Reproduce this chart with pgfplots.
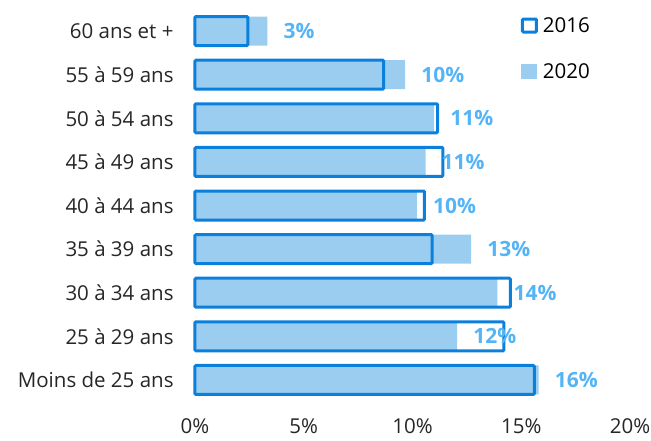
\documentclass[border=0pt]{standalone}
\usepackage{fontspec}
\setmainfont{Open Sans}
\usepackage{pgfplots}
\pgfplotsset{compat=1.18}
\definecolor{c2016}{HTML}{0A7FDC}
\definecolor{c2020}{HTML}{9BCDF0}
\definecolor{clab}{HTML}{55B4F5}
\begin{document}
\begin{tikzpicture}
\begin{axis}[
  scale only axis,
  width=435pt, height=392.6pt,
  xmin=0, xmax=20, ymin=-0.5, ymax=8.5,
  xbar, bar width=29pt, bar shift=0pt,
  axis line style={draw=none},
  tick style={draw=none},
  xtick={0,5,10,15,20},
  xticklabels={0\%,5\%,10\%,15\%,20\%},
  ytick={0,...,8},
  yticklabels={Moins de 25 ans,25 à 29 ans,30 à 34 ans,35 à 39 ans,40 à 44 ans,45 à 49 ans,50 à 54 ans,55 à 59 ans,60 ans et +},
  ticklabel style={font=\fontsize{20.5}{24}\selectfont, text=black!85},
  yticklabel style={inner sep=0pt, xshift=-17pt},
  xticklabel style={inner sep=0pt, yshift=-17pt},
  /pgf/number format/assume math mode=true,
  clip=false,
  reverse legend,
  legend style={draw=none, fill=none, at={(0.742,0.99)}, anchor=north west,
    font=\fontsize{20.5}{24}\selectfont, row sep=26pt, legend cell align=left},
]
\addplot[fill=c2020, draw=none,
  nodes near coords, point meta=explicit symbolic,
  every node near coord/.append style={anchor=west, inner sep=0pt, xshift=16pt,
    text=clab, font=\fontsize{21}{24}\selectfont\bfseries},
  legend image code/.code={\fill[c2020] (0pt,-7.5pt) rectangle (16pt,7.5pt); \path[draw=none,fill=none] (0pt,0pt) -- (20pt,0pt);}]
coordinates {
(15.8,0) [16\%]
(12.05,1) [12\%]
(13.9,2) [14\%]
(12.7,3) [13\%]
(10.2,4) [10\%]
(10.6,5) [11\%]
(11.0,6) [11\%]
(9.66,7) [10\%]
(3.33,8) [3\%]
};
\addlegendentry{2020}
\addplot[fill=none, draw=c2016, line width=3pt, rounded corners=1pt,
  legend image code/.code={\draw[c2016, line width=3pt, rounded corners=1pt] (1.5pt,-6.5pt) rectangle (15.5pt,6.5pt); \path[draw=none,fill=none] (0pt,0pt) -- (20pt,0pt);}]
coordinates {
(15.6,0)
(14.2,1)
(14.5,2)
(10.9,3)
(10.55,4)
(11.4,5)
(11.15,6)
(8.67,7)
(2.43,8)
};
\addlegendentry{2016}
\end{axis}
\path (-195pt,-38.2pt) rectangle (456pt,401.8pt);
\end{tikzpicture}
\end{document}
